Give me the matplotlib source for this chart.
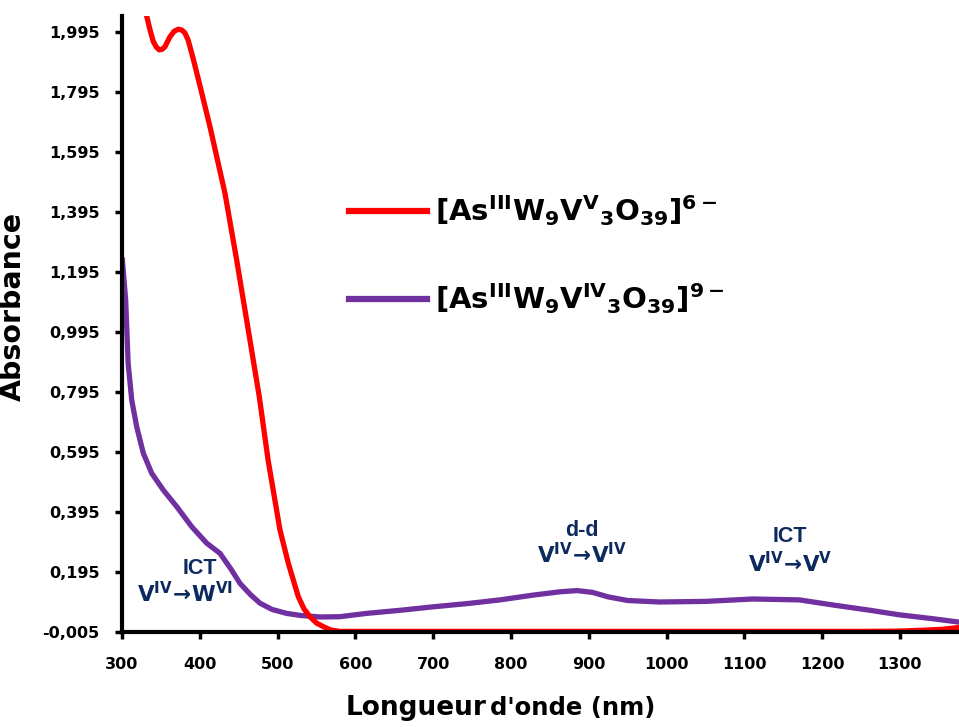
import matplotlib
matplotlib.use("Agg")
import matplotlib.pyplot as plt
from matplotlib.ticker import FixedLocator, FuncFormatter

# wavelength (nm) / absorbance
red_x = [318, 331.7, 336, 340.2, 344, 347.9, 351.5, 355.3, 361.7, 367, 372.4, 377,
         381, 385, 391.6, 400.3, 413.1, 432.4, 447.4, 463.4, 476.5, 488, 503.1,
         513.8, 526.6, 534, 541.6, 550, 558.7, 568, 580, 700, 900, 1100, 1250,
         1300, 1330, 1355, 1376]
red_y = [2.45, 2.048, 2.002, 1.963, 1.945, 1.935, 1.937, 1.946, 1.979, 1.997, 2.004,
         2.001, 1.991, 1.968, 1.905, 1.815, 1.679, 1.457, 1.235, 0.985, 0.779, 0.565,
         0.335, 0.224, 0.113, 0.072, 0.046, 0.025, 0.013, 0.002, -0.003, -0.003,
         -0.003, -0.003, -0.003, -0.002, 0.001, 0.004, 0.010]

purple_x = [300.5, 302.5, 304.7, 307.9, 312.5, 318.9, 327.4, 338.2, 353.1, 370.3,
            389.6, 408.9, 426, 440, 451.7, 465, 477.4, 493, 511.7, 530, 554.5,
            580, 614.5, 660, 700.2, 745, 785.9, 828.7, 863, 885, 905, 925, 950,
            991, 1050, 1111, 1171, 1214, 1260, 1300, 1340, 1376]
purple_y = [1.235, 1.17, 1.102, 0.89, 0.768, 0.679, 0.591, 0.524, 0.468, 0.413,
            0.346, 0.291, 0.257, 0.205, 0.157, 0.12, 0.091, 0.07, 0.057, 0.05, 0.045,
            0.046, 0.057, 0.068, 0.079, 0.090, 0.102, 0.118, 0.129, 0.133, 0.127,
            0.112, 0.100, 0.095, 0.097, 0.105, 0.102, 0.085, 0.068, 0.052, 0.040,
            0.028]

y_ticks = [-0.005, 0.195, 0.395, 0.595, 0.795, 0.995, 1.195, 1.395, 1.595, 1.795, 1.995]
x_ticks = [300, 400, 500, 600, 700, 800, 900, 1000, 1100, 1200, 1300]

labels = [r'$\mathbf{[As^{III}W_{9}V^{V}{}_{3}O_{39}]^{6-}}$',
          r'$\mathbf{[As^{III}W_{9}V^{IV}{}_{3}O_{39}]^{9-}}$']
colors = ['#ff0000', '#7030a0']
navy = '#0d2a5e'

# band assignments: (wavelength, absorbance, text)
band_x = [400, 381, 891, 891, 1159, 1159]
band_y = [0.208, 0.118, 0.332, 0.248, 0.312, 0.218]
band_txt = ['ICT', r'$\mathbf{V^{IV}\!\rightarrow\! W^{VI}}$',
            'd-d', r'$\mathbf{V^{IV}\!\rightarrow\! V^{IV}}$',
            'ICT', r'$\mathbf{V^{IV}\!\rightarrow\! V^{V}}$']

tick_font = 'DejaVu Sans'

fig = plt.figure(figsize=(9.59, 7.27), dpi=100)
ax = fig.add_axes([122 / 959, 1 - 632 / 727, 1 - 122 / 959, (632 - 16) / 727])

ax.plot(purple_x, purple_y, color=colors[1], lw=3.8, label=labels[1], zorder=3)
ax.plot(red_x, red_y, color=colors[0], lw=3.8, label=labels[0], zorder=4)

ax.set_xlim(300, 1376)
ax.set_ylim(-0.005, 2.048)

for s in ['top', 'right']:
    ax.spines[s].set_visible(False)
for s in ['left', 'bottom']:
    ax.spines[s].set_linewidth(3)
    ax.spines[s].set_zorder(5)

ax.yaxis.set_major_locator(FixedLocator(y_ticks))
ax.yaxis.set_major_formatter(FuncFormatter(lambda v, p: f'{v:.3f}'.replace('.', ',')))
ax.xaxis.set_major_locator(FixedLocator(x_ticks))
ax.tick_params(width=2.5, length=5, direction='out')
ax.tick_params(axis='y', pad=11)
ax.tick_params(axis='x', pad=13)
for lab in ax.get_xticklabels() + ax.get_yticklabels():
    lab.set_fontfamily(tick_font)
    lab.set_fontweight('bold')
    lab.set_fontsize(11.5)

ax.set_ylabel('Absorbance', fontsize=20.5, fontweight='bold', family='DejaVu Sans')
ax.yaxis.set_label_coords(-0.1135, 0.528)

fig.text(346 / 959, 1 - 715 / 727, 'Longueur', fontsize=19, family=tick_font,
         fontweight='bold', ha='left', va='baseline')
fig.text(490 / 959, 1 - 715 / 727, "d'onde (nm)", fontsize=17.5, family=tick_font,
         fontweight='bold', ha='left', va='baseline')

for bx, by, bt in zip(band_x, band_y, band_txt):
    ax.text(bx, by, bt, color=navy, fontsize=15.5, fontweight='bold', ha='center',
            va='center', family='Liberation Sans')

h, l = ax.get_legend_handles_labels()
leg = ax.legend(h[::-1], l[::-1], loc='upper left',
                bbox_to_anchor=(334.5 / 959, 1 - 178.5 / 727), bbox_transform=fig.transFigure,
                frameon=False, fontsize=21, handlelength=2.67, handletextpad=0.28,
                labelspacing=1.85, borderpad=0)
for line in leg.get_lines():
    line.set_linewidth(4.5)

fig.savefig('out.png', dpi=100)
